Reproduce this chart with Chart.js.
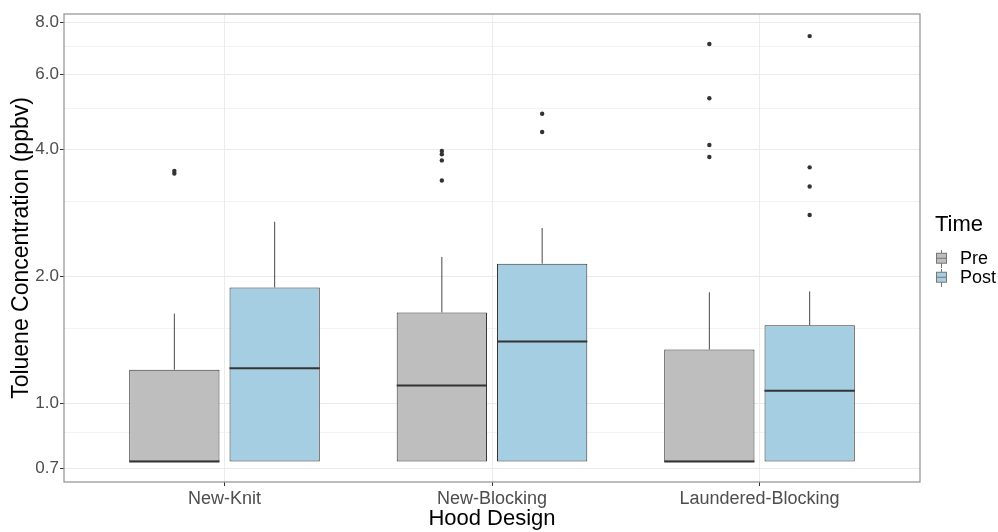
<!DOCTYPE html>
<html>
<head>
<meta charset="utf-8">
<script src="https://cdn.jsdelivr.net/npm/chart.js@4.4.1/dist/chart.umd.min.js"></script>
<style>
  html, body { margin: 0; padding: 0; background: #fff; }
  #wrap { width: 998px; height: 532px; }
</style>
</head>
<body>
<div id="wrap"><canvas id="boxChart"></canvas></div>
<script>
// Hood designs on the x axis
const designs = ["New-Knit", "New-Blocking", "Laundered-Blocking"];

// y axis ticks (log scale) and the minor grid lines between them
const yTicks = [0.7, 1.0, 2.0, 4.0, 6.0, 8.0];
const yMinor = [0.85, 1.5, 3.0, 5.0, 7.0];

// "Pre" boxes
const preLow = [0.727, 0.727, 0.727];
const preQ1 = [0.727, 0.727, 0.727];
const preMedian = [0.727, 1.10, 0.727];
const preQ3 = [1.20, 1.64, 1.34];
const preHigh = [1.63, 2.22, 1.83];
const preOutliers = [[3.55, 3.50], [3.96, 3.89, 3.76, 3.37], [7.10, 5.28, 4.09, 3.83]];

// "Post" boxes
const postLow = [0.727, 0.727, 0.727];
const postQ1 = [0.727, 0.727, 0.727];
const postMedian = [1.21, 1.40, 1.07];
const postQ3 = [1.88, 2.14, 1.53];
const postHigh = [2.69, 2.60, 1.84];
const postOutliers = [[], [4.85, 4.39], [7.41, 3.62, 3.26, 2.79]];

const PRE_COLOR = "#BEBEBE";
const POST_COLOR = "#A6CEE3";
const LINE_COLOR = "#333333";
const CAT_PCT = 0.75;
const DODGE = CAT_PCT / 4; // centre of each box relative to the category

const FONT = "'Liberation Sans', Arial, sans-serif";

// small boxplot glyph for the legend keys
function legendGlyph(fill) {
  const c = document.createElement("canvas");
  c.width = 30;
  c.height = 18;
  const g = c.getContext("2d");
  g.strokeStyle = "#777";
  g.lineWidth = 1;
  g.beginPath();
  g.moveTo(20.5, 0);
  g.lineTo(20.5, 18);
  g.stroke();
  g.fillStyle = fill;
  g.fillRect(15.5, 3.5, 10, 10);
  g.strokeRect(15.5, 3.5, 10, 10);
  g.beginPath();
  g.moveTo(15.5, 8.5);
  g.lineTo(25.5, 8.5);
  g.stroke();
  return c;
}

function boxData(q1, q3) {
  return designs.map((d, i) => ({ x: i + 1, y: [q1[i], q3[i]] }));
}

function outlierData(list, shift) {
  const pts = [];
  list.forEach((vals, i) => vals.forEach((v) => pts.push({ x: i + 1 + shift, y: v })));
  return pts;
}

const stats = [
  { low: preLow, median: preMedian, q1: preQ1, q3: preQ3, high: preHigh },
  { low: postLow, median: postMedian, q1: postQ1, q3: postQ3, high: postHigh },
];

// whiskers, medians and the panel border
const boxExtras = {
  id: "boxExtras",
  afterDatasetsDraw(chart) {
    const ctx = chart.ctx;
    const y = chart.scales.y;
    ctx.save();
    stats.forEach((s, di) => {
      const meta = chart.getDatasetMeta(di);
      meta.data.forEach((bar, i) => {
        const half = bar.width / 2;
        ctx.strokeStyle = LINE_COLOR;
        ctx.lineWidth = 0.9;
        ctx.beginPath();
        ctx.moveTo(bar.x, y.getPixelForValue(s.q3[i]));
        ctx.lineTo(bar.x, y.getPixelForValue(s.high[i]));
        ctx.moveTo(bar.x, y.getPixelForValue(s.q1[i]));
        ctx.lineTo(bar.x, y.getPixelForValue(s.low[i]));
        ctx.stroke();
        ctx.lineWidth = 2;
        const my = y.getPixelForValue(s.median[i]);
        ctx.beginPath();
        ctx.moveTo(bar.x - half, my);
        ctx.lineTo(bar.x + half, my);
        ctx.stroke();
      });
    });
    const a = chart.chartArea;
    ctx.strokeStyle = "#999999";
    ctx.lineWidth = 1.3;
    ctx.strokeRect(a.left, a.top, a.right - a.left, a.bottom - a.top);
    ctx.restore();
  },
};

const ctx = document.getElementById("boxChart").getContext("2d");

new Chart(ctx, {
  type: "bar",
  data: {
    datasets: [
      {
        label: "Pre",
        data: boxData(preQ1, preQ3),
        backgroundColor: PRE_COLOR,
        borderColor: LINE_COLOR,
        borderWidth: 1,
        borderSkipped: false,
        categoryPercentage: CAT_PCT,
        barPercentage: 0.9,
      },
      {
        label: "Post",
        data: boxData(postQ1, postQ3),
        backgroundColor: POST_COLOR,
        borderColor: LINE_COLOR,
        borderWidth: 1,
        borderSkipped: false,
        categoryPercentage: CAT_PCT,
        barPercentage: 0.9,
      },
      {
        type: "scatter",
        label: "Pre outliers",
        data: outlierData(preOutliers, -DODGE),
        backgroundColor: LINE_COLOR,
        borderWidth: 0,
        pointRadius: 2.2,
      },
      {
        type: "scatter",
        label: "Post outliers",
        data: outlierData(postOutliers, DODGE),
        backgroundColor: LINE_COLOR,
        borderWidth: 0,
        pointRadius: 2.2,
      },
    ],
  },
  options: {
    responsive: true,
    maintainAspectRatio: false,
    animation: false,
    layout: { padding: { top: 14, right: 0, bottom: 0, left: 0 } },
    plugins: {
      tooltip: { enabled: false },
      legend: {
        position: "right",
        fullSize: false,
        align: "center",
        maxWidth: 78,
        title: {
          display: true,
          text: "Time",
          position: "center",
          color: "#000",
          font: { family: FONT, size: 22 },
          padding: { top: 6, bottom: 8 },
        },
        labels: {
          color: "#000",
          font: { family: FONT, size: 18 },
          usePointStyle: true,
          pointStyleWidth: 30,
          padding: 1,
          generateLabels: () => [
            { text: "Pre", pointStyle: legendGlyph(PRE_COLOR), fillStyle: PRE_COLOR, strokeStyle: "#666", lineWidth: 0, datasetIndex: 0 },
            { text: "Post", pointStyle: legendGlyph(POST_COLOR), fillStyle: POST_COLOR, strokeStyle: "#666", lineWidth: 0, datasetIndex: 1 },
          ],
        },
      },
    },
    scales: {
      x: {
        type: "linear",
        offset: false,
        min: 0.4,
        max: 3.6,
        afterBuildTicks: (scale) => {
          scale.ticks = designs.map((d, i) => ({ value: i + 1 }));
        },
        afterFit: (scale) => {
          scale.height = 50;
        },
        ticks: {
          autoSkip: false,
          maxRotation: 0,
          padding: 2,
          color: "#4D4D4D",
          font: { family: FONT, size: 18 },
          callback: (v) => designs[v - 1],
        },
        grid: { offset: false, color: "#EBEBEB", lineWidth: 1, tickLength: 4, tickColor: LINE_COLOR },
        border: { display: false },
        title: {
          display: true,
          text: "Hood Design",
          color: "#000",
          font: { family: FONT, size: 22 },
          padding: 0,
        },
      },
      y: {
        type: "logarithmic",
        stacked: false,
        min: 0.65,
        max: 8.36,
        afterBuildTicks: (scale) => {
          scale.ticks = yTicks.concat(yMinor).sort((a, b) => a - b).map((v) => ({ value: v }));
        },
        afterFit: (scale) => {
          scale.width = 64;
        },
        ticks: {
          autoSkip: false,
          padding: 1,
          color: "#4D4D4D",
          font: { family: FONT, size: 17 },
          callback: (v) => (yTicks.includes(v) ? v.toFixed(1) : ""),
        },
        grid: {
          color: "#EBEBEB",
          lineWidth: (c) => (c.tick && yMinor.includes(c.tick.value) ? 0.6 : 1),
          tickLength: 4,
          tickColor: (c) => (c.tick && yMinor.includes(c.tick.value) ? "rgba(0,0,0,0)" : LINE_COLOR),
        },
        border: { display: false },
        title: {
          display: true,
          text: "Toluene Concentration (ppbv)",
          color: "#000",
          font: { family: FONT, size: 23 },
          padding: { top: 8, bottom: 0 },
        },
      },
    },
  },
  plugins: [boxExtras],
});
</script>
</body>
</html>
